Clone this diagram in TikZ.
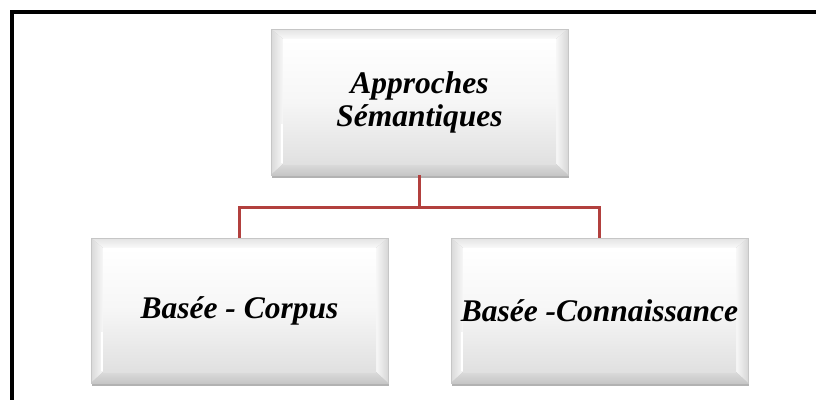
\documentclass[tikz,border=0pt]{standalone}
\usepackage{fontspec}
\setmainfont{Liberation Serif}
\usetikzlibrary{calc,shadows}

\definecolor{linkred}{RGB}{178,64,62}

\tikzset{
  bevelbox/.style={
    rectangle, inner sep=0pt,
    minimum width=297pt, minimum height=146pt,
    fill=gray!35, draw=gray!45, line width=0.6pt,
    drop shadow={shadow xshift=1pt, shadow yshift=-2.5pt, opacity=0.3, fill=black},
    align=center, text=black,
    font=\bfseries\itshape\fontsize{31.5}{33}\selectfont,
    path picture={
      \coordinate (nw) at (path picture bounding box.north west);
      \coordinate (ne) at (path picture bounding box.north east);
      \coordinate (sw) at (path picture bounding box.south west);
      \coordinate (se) at (path picture bounding box.south east);
      \coordinate (inw) at ($(nw)+(12pt,-10pt)$);
      \coordinate (ine) at ($(ne)+(-12pt,-10pt)$);
      \coordinate (isw) at ($(sw)+(12pt,11pt)$);
      \coordinate (ise) at ($(se)+(-12pt,11pt)$);
      % top bevel
      \fill[top color=gray!22, bottom color=gray!4] (nw) -- (ne) -- (ine) -- (inw) -- cycle;
      % left bevel
      \fill[left color=gray!30, right color=gray!6] (nw) -- (inw) -- (isw) -- (sw) -- cycle;
      % right bevel
      \fill[left color=gray!6, right color=gray!32] (ne) -- (se) -- (ise) -- (ine) -- cycle;
      % bottom bevel
      \fill[top color=gray!28, bottom color=gray!45] (sw) -- (isw) -- (ise) -- (se) -- cycle;
      % inner face
      \fill[top color=white, bottom color=gray!24, middle color=gray!7] (inw) rectangle (ise);
      % highlight along the lower left bevel
      \draw[white, line width=1.2pt] ($(isw)+(-1pt,1pt)$) -- ($(isw)+(-1pt,40pt)$);
    }
  },
  linkline/.style={draw=linkred, line width=3pt}
}

\begin{document}
\begin{tikzpicture}[x=1pt, y=-1pt]
  \useasboundingbox (0,0) rectangle (816,399);

  % frame (left and top edges)
  \draw[line width=4pt, line cap=rect] (12,401) -- (12,12) -- (818,12);

  % boxes
  \node[bevelbox] (root) at (419.5,102) {Approches\\Sémantiques};
  \node[bevelbox, minimum height=145pt] (corpus) at (239.5,310.5) {Basée - Corpus};
  \node[bevelbox, minimum height=145pt] (conn) at (599.5,310.5) {Basée -Connaissance};

  % connectors
  \coordinate (fork) at (419.5,207);
  \draw[linkline] (root.south) -- (fork);
  \draw[linkline] (fork) -| (corpus.north);
  \draw[linkline] (fork) -| (conn.north);
\end{tikzpicture}
\end{document}
